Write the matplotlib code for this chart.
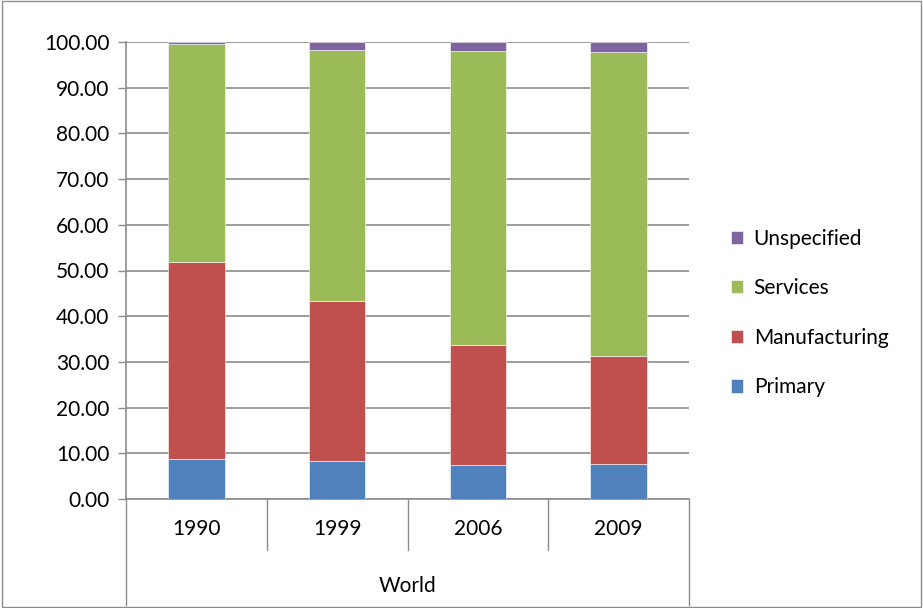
import matplotlib.pyplot as plt
import matplotlib.transforms as mtransforms
import numpy as np

plt.rcParams['font.family'] = ['Lato', 'DejaVu Sans']

years = ['1990', '1999', '2006', '2009']
primary = np.array([8.8, 8.3, 7.4, 7.7])
manufacturing = np.array([43.1, 35.1, 26.4, 23.7])
services = np.array([47.7, 54.8, 64.3, 66.5])
unspecified = np.array([0.4, 1.8, 1.9, 2.1])
series_names = ['Primary', 'Manufacturing', 'Services', 'Unspecified']
colors = ['#4F81BD', '#C0504D', '#9BBB59', '#8064A2']

fig = plt.figure(figsize=(9.23, 6.08), dpi=100)
ax = fig.add_axes([126/923, 109/608, 563/923, 457/608])

x = np.arange(len(years))
bottom = np.zeros(len(years))
bars = []
for vals, name, c in zip([primary, manufacturing, services, unspecified], series_names, colors):
    b = ax.bar(x, vals, width=0.4, bottom=bottom, color=c, label=name,
               edgecolor='white', linewidth=0.4, zorder=3)
    bars.append(b)
    bottom += vals

fs = 15
ax.set_xlim(-0.5, 3.5)
ax.set_ylim(0, 100)
ax.set_yticks(np.arange(0, 101, 10))
ax.set_yticklabels(['%.2f' % v for v in np.arange(0, 101, 10)], fontsize=fs)
ax.yaxis.grid(True, color='#8c8c8c', linewidth=1.2, zorder=0)
ax.tick_params(axis='y', length=6, color='#8c8c8c', width=1, pad=6)
ax.set_xticks([])
for s in ['top', 'right']:
    ax.spines[s].set_visible(False)
ax.spines['left'].set_color('#8c8c8c')
ax.spines['bottom'].set_color('#8c8c8c')
ax.spines['left'].set_linewidth(1.2)
ax.spines['bottom'].set_linewidth(1.2)

# two-level category axis: years, then the group label
trans = mtransforms.blended_transform_factory(ax.transData, fig.transFigure)
for xb in [0.5, 1.5, 2.5]:
    ax.plot([xb, xb], [109/608, 58/608], transform=trans, color='#8c8c8c', lw=1, clip_on=False)
for xb in [-0.5, 3.5]:
    ax.plot([xb, xb], [109/608, 3/608], transform=trans, color='#8c8c8c', lw=1, clip_on=False)
for xi, yr in zip(x, years):
    ax.text(xi, 79/608, yr, transform=trans, ha='center', va='center', fontsize=fs)
ax.text(1.5, 22/608, 'World', transform=trans, ha='center', va='center', fontsize=fs)

handles = [b[0] for b in bars][::-1]
leg = fig.legend(handles, series_names[::-1], loc='center left',
                 bbox_to_anchor=(712/923, 1 - 313/608), frameon=False, fontsize=fs,
                 handlelength=0.6, handleheight=0.6, labelspacing=1.42, handletextpad=0.5)

fig.patches.append(plt.Rectangle((0.002, 0.002), 0.996, 0.996, transform=fig.transFigure,
                                 fill=False, edgecolor='#8c8c8c', linewidth=1))

plt.savefig('out.png', dpi=100)
